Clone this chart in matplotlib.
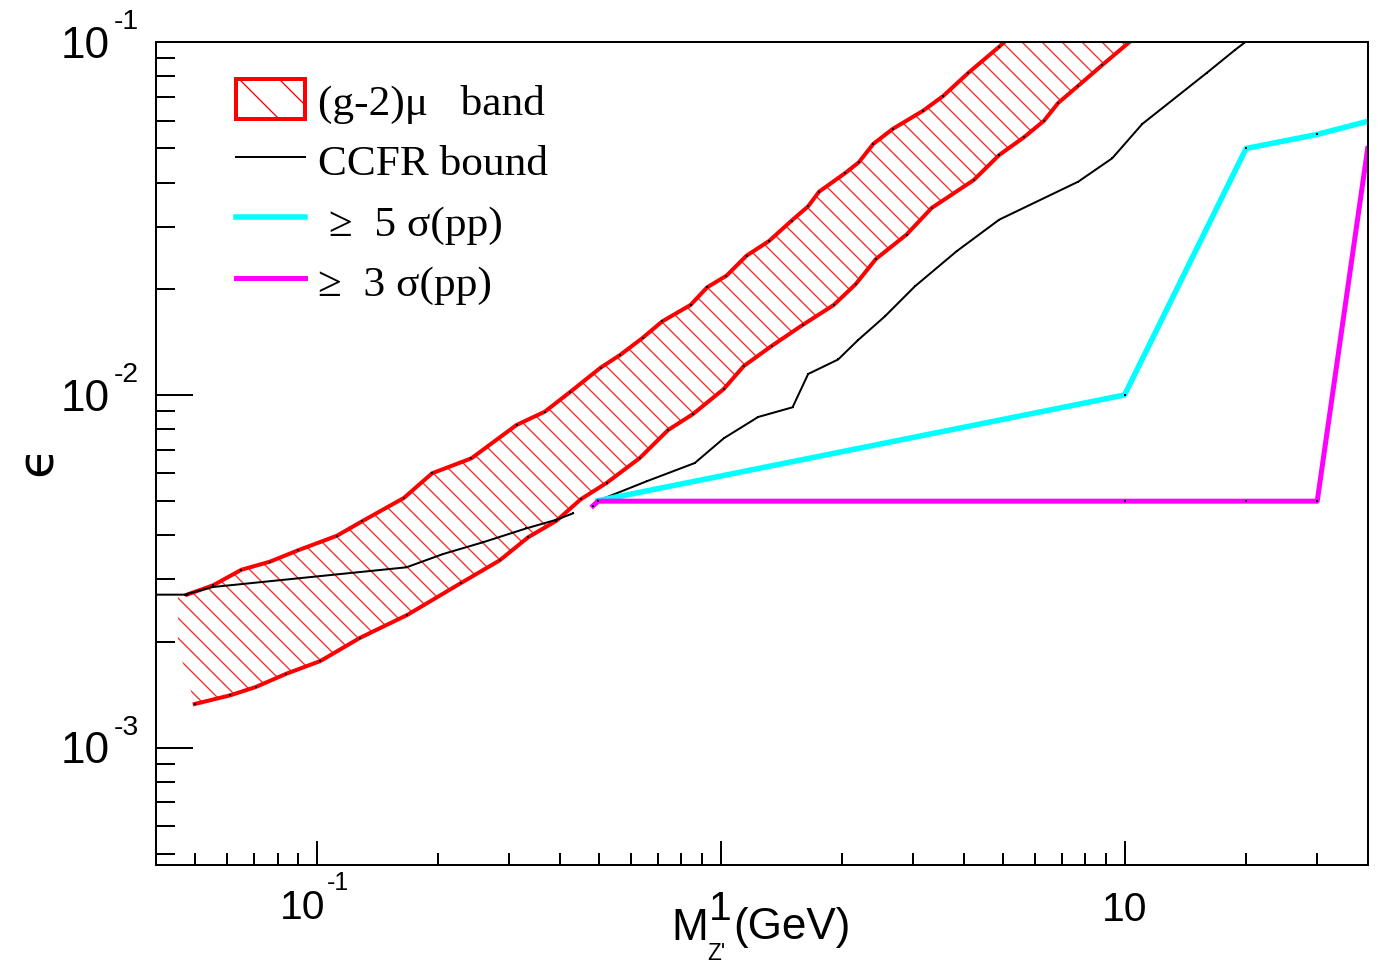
import numpy as np
import matplotlib
matplotlib.use("Agg")
import matplotlib.pyplot as plt
from matplotlib.patches import Polygon, Patch
from matplotlib.lines import Line2D

# (g-2)mu band, upper and lower edges
band_up_x = [0.0477, 0.0554, 0.0651, 0.0765, 0.0899, 0.1123, 0.1295, 0.1643, 0.1930, 0.2416,
             0.3124, 0.3670, 0.4232, 0.5043, 0.5650, 0.6406, 0.7163, 0.8424, 0.9260, 1.034,
             1.159, 1.318, 1.498, 1.647, 1.753, 2.031, 2.199, 2.387, 2.666, 3.173,
             3.556, 4.102, 4.894, 5.35]
band_up_y = [0.002716, 0.002887, 0.003196, 0.003367, 0.003628, 0.003992, 0.004384, 0.005105, 0.005998, 0.006615,
             0.008222, 0.008968, 0.01018, 0.01195, 0.01301, 0.01451, 0.01616, 0.01800, 0.02020, 0.02179,
             0.02483, 0.02733, 0.03120, 0.03428, 0.03771, 0.04252, 0.04569, 0.05149, 0.05678, 0.06399,
             0.07042, 0.08185, 0.09716, 0.1065]
band_lo_x = [0.04988, 0.0611, 0.0706, 0.0841, 0.1021, 0.1278, 0.1674, 0.2270, 0.2839, 0.3337,
             0.3923, 0.4506, 0.5218, 0.6307, 0.7413, 0.8548, 1.018, 1.141, 1.337, 1.595,
             1.906, 2.161, 2.423, 2.887, 3.329, 4.236, 4.894, 5.634, 6.318, 6.851,
             7.654, 8.807, 10.8]
band_lo_y = [0.001330, 0.001408, 0.001486, 0.001621, 0.001761, 0.002047, 0.002378, 0.002925, 0.003399, 0.003950,
             0.004401, 0.005063, 0.005631, 0.006628, 0.007958, 0.008834, 0.01040, 0.01208, 0.01377, 0.01579,
             0.01800, 0.02064, 0.02430, 0.02851, 0.03390, 0.04071, 0.04792, 0.05377, 0.05991, 0.06730,
             0.07502, 0.08621, 0.105]
# left end of the hatched area
band_left_x = [0.0453, 0.0453]
band_left_y = [0.00195, 0.00272]

# CCFR bound (two pieces)
ccfr1_x = [0.04, 0.0471, 0.0553, 0.1668, 0.2055, 0.2581, 0.3306, 0.3923, 0.4313]
ccfr1_y = [0.002716, 0.002716, 0.002855, 0.003247, 0.003541, 0.003824, 0.004188, 0.004430, 0.004620]
ccfr2_x = [0.4972, 0.6555, 0.8631, 1.018, 1.238, 1.507, 1.647, 1.954, 2.190, 2.551,
           3.027, 3.838, 4.894, 7.680, 9.322, 11.06, 15.97, 18.77, 21.0]
ccfr2_y = [0.005016, 0.005692, 0.006415, 0.007537, 0.008662, 0.009229, 0.01147, 0.01261, 0.01432, 0.01671,
           0.02033, 0.02555, 0.03141, 0.04026, 0.04690, 0.05865, 0.08185, 0.09511, 0.105]

# >= 5 sigma (pp)
s5_x = [0.497, 10, 20, 30, 40]
s5_y = [0.005016, 0.01, 0.05, 0.0548, 0.0597]
# >= 3 sigma (pp)
s3_x = [0.483, 0.497, 10, 20, 30, 40]
s3_y = [0.00485, 0.005, 0.005, 0.005, 0.005, 0.05]

labels = ["(g-2)\u03bc   band", "CCFR bound", " \u2265  5 \u03c3(pp)", "\u2265  3 \u03c3(pp)"]

W, H, DPI = 1378, 965, 120
PT = 72.0 / DPI  # points per pixel

plt.rcParams['font.family'] = ['Liberation Sans', 'DejaVu Sans']
plt.rcParams['hatch.linewidth'] = 0.8

fig = plt.figure(figsize=(W / DPI, H / DPI), dpi=DPI)
ax = fig.add_axes([156 / W, 1 - 866 / H, (1367.7 - 156) / W, (866 - 43.3) / H])
ax.set_xscale('log')
ax.set_yscale('log')
ax.set_xlim(0.04, 40)
ax.set_ylim(4.65e-4, 0.1)

# hatched band
poly_x = band_up_x + band_lo_x[::-1] + band_left_x
poly_y = band_up_y + band_lo_y[::-1] + band_left_y
band = Polygon(np.column_stack([poly_x, poly_y]), closed=True, facecolor='none',
               edgecolor='#ff2a2a', linewidth=0, hatch='\\\\')
ax.add_patch(band)

mk = dict(marker='s', markersize=1.5, markerfacecolor='k', markeredgecolor='none')
ax.plot(band_up_x, band_up_y, color='red', lw=4 * PT, solid_joinstyle='round', **mk)
ax.plot(band_lo_x, band_lo_y, color='red', lw=4 * PT, solid_joinstyle='round', **mk)
ax.plot(ccfr1_x, ccfr1_y, color='black', lw=2 * PT, **mk)
ax.plot(ccfr2_x, ccfr2_y, color='black', lw=2 * PT, **mk)
ax.plot(s5_x, s5_y, color='#00ffff', lw=5.5 * PT, **mk)
ax.plot(s3_x, s3_y, color='#ff00ff', lw=5 * PT, **mk)

# axes style
for s in ax.spines.values():
    s.set_linewidth(2 * PT)
ax.tick_params(which='both', direction='in', top=False, right=False,
               labelbottom=False, labelleft=False, width=2 * PT)
ax.tick_params(axis='y', which='major', length=37 * PT)
ax.tick_params(axis='y', which='minor', length=19 * PT)
ax.tick_params(axis='x', which='major', length=24 * PT)
ax.tick_params(axis='x', which='minor', length=12 * PT)

# y tick labels 10^-n
for e in [1, 2, 3]:
    v = 10.0 ** (-e)
    ax.annotate('10', xy=(0, v), xycoords=ax.get_yaxis_transform(),
                xytext=(-46 * PT, -3 * PT), textcoords='offset points',
                ha='right', va='center', fontsize=26.5)
    ax.annotate('-%d' % e, xy=(0, v), xycoords=ax.get_yaxis_transform(),
                xytext=(-42 * PT, 21 * PT), textcoords='offset points',
                ha='left', va='center', fontsize=17)

# x tick labels
xt = ax.get_xaxis_transform()
ax.annotate('10', xy=(0.1, 0), xycoords=xt, xytext=(-14.5 * PT, -42.5 * PT),
            textcoords='offset points', ha='center', va='center', fontsize=24.5)
ax.annotate('-1', xy=(0.1, 0), xycoords=xt, xytext=(10 * PT, -17 * PT),
            textcoords='offset points', ha='left', va='center', fontsize=15)
ax.annotate('1', xy=(1, 0), xycoords=xt, xytext=(0, -43 * PT),
            textcoords='offset points', ha='center', va='center', fontsize=24.5)
ax.annotate('10', xy=(10, 0), xycoords=xt, xytext=(0, -44 * PT),
            textcoords='offset points', ha='center', va='center', fontsize=24.5)

# axis titles
fig.text(671 / W, 1 - 940 / H, 'M', ha='left', va='baseline', fontsize=26.5)
fig.text(707 / W, 1 - 960 / H, "Z'", ha='left', va='baseline', fontsize=13.5)
fig.text(733 / W, 1 - 939 / H, '(GeV)', ha='left', va='baseline', fontsize=26.5)
fig.text(38 / W, 1 - 461 / H, '\u03f5', rotation=90, ha='center', va='center',
         fontsize=30, family=['DejaVu Sans'])

# legend
handles = [Patch(facecolor='white', edgecolor='red', linewidth=4 * PT, hatch='\\'),
           Line2D([], [], color='black', lw=2 * PT),
           Line2D([], [], color='#00ffff', lw=5.5 * PT),
           Line2D([], [], color='#ff00ff', lw=5 * PT)]
fs = 26
fpx = fs / PT
ax.legend(handles, labels, loc='upper left', bbox_to_anchor=(0.066, 0.955),
          frameon=False, prop={'family': ['Liberation Serif', 'DejaVu Serif'], 'size': fs},
          handlelength=69 / fpx, handleheight=44 / fpx, handletextpad=13 / fpx,
          labelspacing=17 / fpx, borderpad=0, borderaxespad=0)

fig.savefig('out.png', dpi=DPI)
